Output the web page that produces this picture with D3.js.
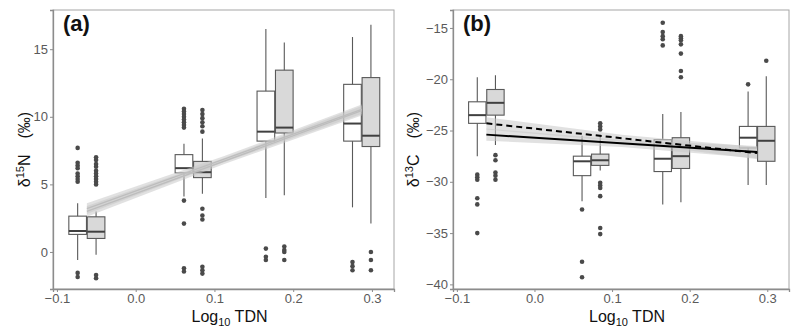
<!DOCTYPE html>
<html>
<head>
<meta charset="utf-8">
<script src="https://cdn.jsdelivr.net/npm/d3@7"></script>
<style>
  body { margin: 0; background: #fff; }
  svg text { font-family: "Liberation Sans", Arial, sans-serif; }
</style>
</head>
<body>
<div id="chart"></div>
<script>
// group positions on the x axis (log10 TDN)
const xGroups = [-0.062, 0.073, 0.177, 0.287];
const xTicks = [-0.1, 0.0, 0.1, 0.2, 0.3];

// panel (a) d15N: [whisker low, q1, median, q3, whisker high]
const nWhiteStats = [[-0.6, 1.3, 1.55, 2.65, 3.6], [4.1, 5.85, 6.2, 7.2, 8.0], [4.0, 8.2, 8.9, 11.9, 16.5], [3.3, 8.2, 9.5, 12.4, 15.9]];
const nGreyStats = [[-0.2, 1.0, 1.5, 2.6, 3.0], [4.3, 5.5, 5.9, 6.7, 8.4], [4.2, 8.8, 9.2, 13.45, 15.5], [2.1, 7.8, 8.6, 12.9, 16.8]];
const nWhiteOut = [[7.7, 6.6, 6.4, 6.2, 5.8, 5.6, 5.4, 5.2, -1.55, -1.85], [10.6, 10.4, 10.2, 10.0, 9.8, 9.6, 9.4, 9.2, 3.8, 2.1, -1.2, -1.45], [0.25, -0.35, -0.6], [-0.75, -1.05, -1.35]];
const nGreyOut = [[7.0, 6.8, 6.5, 6.3, 6.0, 5.8, 5.6, 5.4, 5.2, 5.0, -1.7, -1.95], [10.5, 10.2, 9.9, 9.6, 9.3, 8.9, 3.2, 2.7, 2.4, -1.1, -1.35, -1.6], [0.4, 0.15, 0.0, -0.6], [0.0, -0.6, -1.35]];
const nTicks = [0, 5, 10, 15];
// fitted lines at first and last group, ribbon half widths at start / middle / end
const nFitWhite = [3.0, 10.45];
const nFitGrey = [3.2, 10.55];
const nBand = [0.4, 0.22, 0.35];

// panel (b) d13C
const cWhiteStats = [[-27.5, -24.3, -23.5, -22.2, -19.8], [-31.9, -29.4, -28.0, -27.5, -25.5], [-32.2, -29.0, -27.75, -25.9, -23.4], [-30.3, -26.7, -25.7, -24.6, -21.2]];
const cGreyStats = [[-26.4, -23.5, -22.3, -21.0, -19.6], [-28.9, -28.4, -27.9, -27.3, -25.4], [-32.0, -28.7, -27.5, -25.7, -23.2], [-30.3, -28.0, -26.0, -24.6, -19.7]];
const cWhiteOut = [[-29.3, -29.55, -29.8, -31.6, -32.2, -35.0], [-32.7, -37.8, -39.3], [-14.5, -15.4, -15.8, -16.1, -16.7], [-20.5]];
const cGreyOut = [[-27.4, -27.9, -29.1, -29.4, -29.8], [-24.3, -24.6, -24.9, -30.1, -30.35, -30.6, -31.4, -34.5, -35.1], [-15.8, -16.0, -16.2, -16.6, -17.5, -19.2, -19.8], [-18.2]];
const cTicks = [-40, -35, -30, -25, -20, -15];
const cFitWhite = [-25.4, -27.1];
const cFitGrey = [-24.3, -27.2];
const cBand = [0.6, 0.35, 0.6];

const svg = d3.select("#chart").append("svg").attr("width", 800).attr("height", 335);

function drawPanel(cfg) {
    const x = d3.scaleLinear().domain([-0.105, 0.328]).range([cfg.left, cfg.right]);
    const y = d3.scaleLinear().domain(cfg.yDomain).range([cfg.bottom, cfg.top]);
    const g = svg.append("g");
    const dodge = x(0.0117) - x(0);
    const bw = x(0.0112) - x(0);

    // border
    g.append("rect")
        .attr("x", cfg.left).attr("y", cfg.top)
        .attr("width", cfg.right - cfg.left).attr("height", cfg.bottom - cfg.top)
        .style("fill", "none").style("stroke", "#a6a6a6").style("stroke-width", 1);

    const xAxis = g.append("g")
        .attr("transform", `translate(0,${cfg.bottom})`)
        .call(d3.axisBottom(x).tickValues(xTicks).tickFormat(d3.format(".1f")).tickSizeOuter(0).tickSize(3).tickPadding(2));
    const yAxis = g.append("g")
        .attr("transform", `translate(${cfg.left},0)`)
        .call(d3.axisLeft(y).tickValues(cfg.ticks).tickSizeOuter(0).tickSize(3).tickPadding(2));
    [xAxis, yAxis].forEach((a) => {
        a.select(".domain").style("stroke", "#8c8c8c").style("stroke-width", 1.3);
        a.selectAll(".tick line").style("stroke", "#8c8c8c");
        a.selectAll(".tick text").style("font-size", "13px").style("fill", "#5a5a5a");
    });
    xAxis.selectAll(".tick text").text((d) => d3.format(".1f")(d).replace("-", "\u2212"));
    yAxis.selectAll(".tick text").text((d) => String(d).replace("-", "\u2212"));

    // boxes
    const sets = [
        { stats: cfg.whiteStats, out: cfg.whiteOut, side: -1, fill: "#ffffff" },
        { stats: cfg.greyStats, out: cfg.greyOut, side: 1, fill: "#d9d9d9" },
    ];
    sets.forEach((s) => {
        s.stats.forEach((st, i) => {
            const cx = x(xGroups[i]) + s.side * dodge;
            const box = g.append("g");
            box.append("line")
                .attr("x1", cx).attr("x2", cx).attr("y1", y(st[0])).attr("y2", y(st[4]))
                .style("stroke", "#595959").style("stroke-width", 1.1);
            box.append("rect")
                .attr("x", cx - bw).attr("width", bw * 2)
                .attr("y", y(st[3])).attr("height", y(st[1]) - y(st[3]))
                .style("fill", s.fill).style("stroke", "#595959").style("stroke-width", 1.1);
            box.append("line")
                .attr("x1", cx - bw).attr("x2", cx + bw).attr("y1", y(st[2])).attr("y2", y(st[2]))
                .style("stroke", "#404040").style("stroke-width", 2);
            box.selectAll("circle").data(s.out[i]).enter().append("circle")
                .attr("cx", cx).attr("cy", (d) => y(d)).attr("r", 2.3)
                .style("fill", "#4a4a4a");
        });
    });

    // regression ribbons and lines
    const xMid = (xGroups[0] + xGroups[3]) / 2;
    const fits = [
        { ends: cfg.fitWhite, dash: null },
        { ends: cfg.fitGrey, dash: cfg.dash },
    ];
    fits.forEach((f) => {
        const mid = (f.ends[0] + f.ends[1]) / 2;
        const pts = [[xGroups[0], f.ends[0], cfg.band[0]], [xMid, mid, cfg.band[1]], [xGroups[3], f.ends[1], cfg.band[2]]];
        g.append("path")
            .datum(pts)
            .attr("d", d3.area().x((d) => x(d[0])).y0((d) => y(d[1] - d[2])).y1((d) => y(d[1] + d[2])))
            .style("fill", "#c8c8c8").style("fill-opacity", 0.55);
    });
    fits.forEach((f) => {
        g.append("line")
            .attr("x1", x(xGroups[0])).attr("x2", x(xGroups[3]))
            .attr("y1", y(f.ends[0])).attr("y2", y(f.ends[1]))
            .style("stroke", cfg.lineColor).style("stroke-width", cfg.lineWidth)
            .style("stroke-dasharray", f.dash);
    });

    // panel tag
    g.append("text")
        .attr("x", cfg.left + 10).attr("y", cfg.top + 21)
        .style("font-size", "22px").style("font-weight", "bold").style("fill", "#111")
        .text(cfg.tag);

    // x title
    const xt = g.append("text")
        .attr("x", (cfg.left + cfg.right) / 2 + 6).attr("y", 322)
        .attr("text-anchor", "middle")
        .style("font-size", "16px").style("fill", "#111");
    xt.append("tspan").text("Log");
    xt.append("tspan").attr("dy", 4).style("font-size", "11px").text("10");
    xt.append("tspan").attr("dy", -4).text(" TDN");

    // y title
    const yt = g.append("text")
        .attr("transform", `translate(${cfg.yTitleX},${(cfg.top + cfg.bottom) / 2}) rotate(-90)`)
        .attr("text-anchor", "middle")
        .style("font-size", "16px").style("fill", "#111");
    yt.append("tspan").text("\u03b4");
    yt.append("tspan").attr("dy", -6).style("font-size", "11px").text(cfg.iso);
    yt.append("tspan").attr("dy", 6).text(cfg.elem + "\u2002\u2002(\u2030)");
}

drawPanel({
    left: 53, right: 394, top: 10, bottom: 289,
    yDomain: [-2.74, 17.9], ticks: nTicks,
    whiteStats: nWhiteStats, greyStats: nGreyStats, whiteOut: nWhiteOut, greyOut: nGreyOut,
    fitWhite: nFitWhite, fitGrey: nFitGrey, band: nBand,
    lineColor: "#bdbdbd", lineWidth: 1.3, dash: null,
    tag: "(a)", iso: "15", elem: "N", yTitleX: 30,
});

drawPanel({
    left: 453, right: 789, top: 10, bottom: 289,
    yDomain: [-40.45, -13.25], ticks: cTicks,
    whiteStats: cWhiteStats, greyStats: cGreyStats, whiteOut: cWhiteOut, greyOut: cGreyOut,
    fitWhite: cFitWhite, fitGrey: cFitGrey, band: cBand,
    lineColor: "#000", lineWidth: 2, dash: "6,4",
    tag: "(b)", iso: "13", elem: "C", yTitleX: 419,
});
</script>
</body>
</html>
